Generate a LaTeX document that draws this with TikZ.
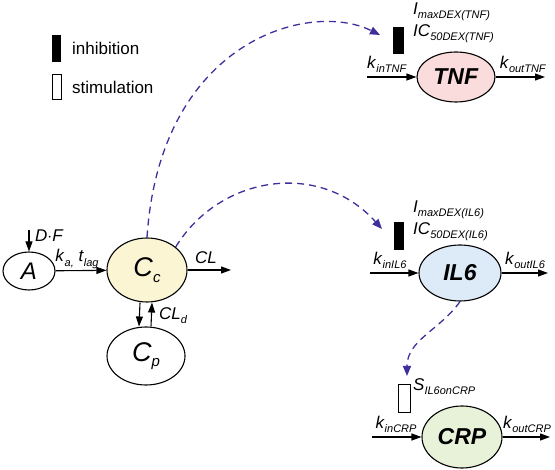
\documentclass[tikz,border=0pt]{standalone}
\usepackage{fontspec}
\setmainfont{Liberation Sans}
\usetikzlibrary{shapes.geometric,arrows.meta}
\definecolor{effblue}{HTML}{3D2F9C}
\definecolor{ccfill}{HTML}{FBF5D3}
\definecolor{tnffill}{HTML}{FADCDC}
\definecolor{ilfill}{HTML}{DCEBF7}
\definecolor{crpfill}{HTML}{E7F2D9}
\newcommand\lowsub[1]{\raisebox{-0.45ex}{\fontsize{11}{11}\selectfont\textit{#1}}}
\newcommand\lbl[2]{\textit{#1}\lowsub{#2}}
\tikzset{
  comp/.style={ellipse, draw, line width=1.1pt, inner sep=0pt},
  flow/.style={-{Triangle[length=10pt,width=7pt]}, line width=1.1pt},
  effect/.style={-{Triangle[length=10pt,width=8pt]}, effblue, line width=1.3pt, dash pattern=on 7pt off 5pt},
  lab/.style={font=\fontsize{17}{17}\selectfont, inner sep=1pt}
}

\begin{document}
\begin{tikzpicture}[x=1pt, y=-1pt]
    \useasboundingbox (0,0) rectangle (555,470);

    % Legende
    \fill (52,35) rectangle (61,62);
    \draw[line width=1pt] (52,75) rectangle (61,100);
    \node[lab, anchor=west] (inh) at (71,48) {inhibition};
    \node[lab, anchor=west] (stim) at (71,87) {stimulation};

    % Kompartimente
    \node[comp, minimum width=52pt, minimum height=38pt] (A) at (29,271) {\fontsize{24}{24}\selectfont\textit{A}};
    \node[comp, fill=ccfill, minimum width=80pt, minimum height=64pt] (Cc) at (147,270) {\fontsize{27}{27}\selectfont\textit{C}\raisebox{-0.4ex}{\fontsize{15}{15}\selectfont\textit{c}}};
    \node[comp, minimum width=78pt, minimum height=58pt] (Cp) at (146,356) {\fontsize{27}{27}\selectfont\textit{C}\raisebox{-0.4ex}{\fontsize{15}{15}\selectfont\textit{p}}};

    % Biomarker
    \node[comp, fill=tnffill, minimum width=78pt, minimum height=50pt] (TNF) at (456,77) {\fontsize{23}{23}\selectfont\textbf{\textit{TNF}}};
    \node[comp, fill=ilfill, minimum width=82pt, minimum height=56pt] (IL6) at (460,273) {\fontsize{23}{23}\selectfont\textbf{\textit{IL6}}};
    \node[comp, fill=crpfill, minimum width=80pt, minimum height=62pt] (CRP) at (462,437) {\fontsize{23}{23}\selectfont\textbf{\textit{CRP}}};

    % PK-Pfeile
    \coordinate (dose) at (29,230);
    \coordinate (clout) at (231,270);
    \draw[flow] (dose) -- (A);
    \node[lab, anchor=west] (DF) at (34,236) {\textit{D$\cdot$F}};
    \draw[flow] (A) -- (Cc);
    \node[lab] (ka) at (77,259) {\lbl{k}{a,} \lbl{t}{lag}};
    \draw[flow] (Cc) -- (clout);
    \node[lab] (CL) at (206,258) {\textit{CL}};
    \draw[flow] ([xshift=-7pt]Cc.south) -- ([xshift=-7pt]Cp.north);
    \draw[flow] ([xshift=5pt]Cp.north) -- ([xshift=5pt]Cc.south);
    \node[lab, anchor=west] (CLd) at (158,316) {\lbl{CL}{d}};

    % Zu- und Abfluss
    \coordinate (tnfin) at (367,77);
    \coordinate (tnfout) at (545,77);
    \coordinate (ilin) at (370,273);
    \coordinate (ilout) at (548,273);
    \coordinate (crpin) at (372,437);
    \coordinate (crpout) at (550,437);
    \draw[flow] (tnfin) -- (TNF);
    \draw[flow] (TNF) -- (tnfout);
    \draw[flow] (ilin) -- (IL6);
    \draw[flow] (IL6) -- (ilout);
    \draw[flow] (crpin) -- (CRP);
    \draw[flow] (CRP) -- (crpout);
    \node[lab] at (387,64) {\lbl{k}{inTNF}};
    \node[lab] at (523,64) {\lbl{k}{outTNF}};
    \node[lab] at (390,260) {\lbl{k}{inIL6}};
    \node[lab] at (525,260) {\lbl{k}{outIL6}};
    \node[lab] at (396,424) {\lbl{k}{inCRP}};
    \node[lab] at (527,424) {\lbl{k}{outCRP}};

    % Effekte
    \fill (393,27) rectangle (404,54);
    \fill (394,222) rectangle (404,250);
    \draw[line width=1pt] (398,385) rectangle (410,413);
    \node[lab, anchor=west] at (412,12) {\lbl{I}{maxDEX(TNF)}};
    \node[lab, anchor=west] at (412,34) {\lbl{IC}{50DEX(TNF)}};
    \node[lab, anchor=west] at (412,210) {\lbl{I}{maxDEX(IL6)}};
    \node[lab, anchor=west] at (412,232) {\lbl{IC}{50DEX(IL6)}};
    \node[lab, anchor=west] at (412,387) {\lbl{S}{IL6onCRP}};

    % gestrichelte Wirkpfeile
    \coordinate (tnfeff) at (380,35);
    \coordinate (ileff) at (382,229);
    \coordinate (crpeff) at (407,376);
    \draw[effect] (Cc.north) .. controls (160,40) and (310,0) .. (tnfeff);
    \draw[effect] (Cc.north east) .. controls (220,175) and (320,160) .. (ileff);
    \draw[effect] (IL6.south) .. controls (440,330) and (407,340) .. (crpeff);
\end{tikzpicture}
\end{document}
